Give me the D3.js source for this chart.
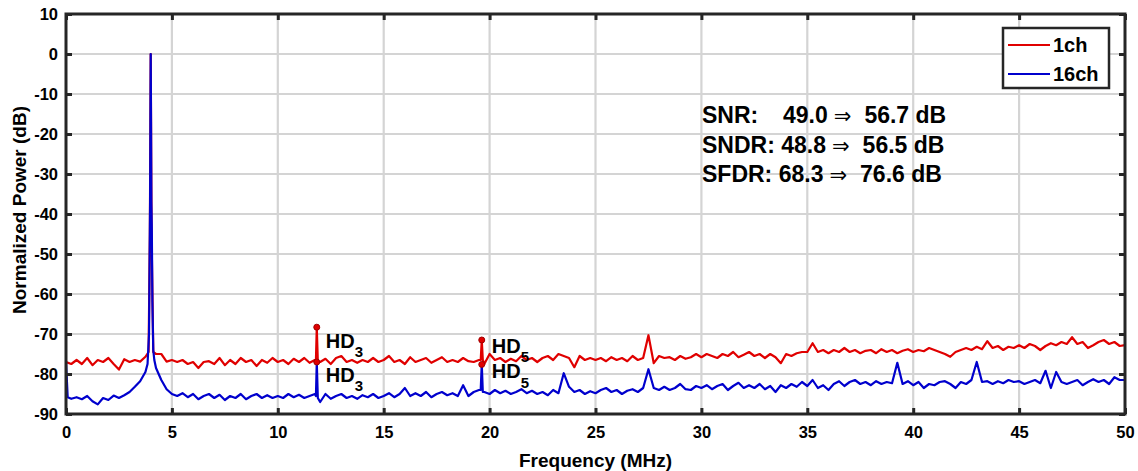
<!DOCTYPE html>
<html><head><meta charset="utf-8">
<script src="https://cdn.jsdelivr.net/npm/d3@7"></script>
<style>
body{margin:0;background:#fff}
svg{display:block}
text{font-family:"Liberation Sans",Arial,sans-serif;font-weight:bold;fill:#000}
</style>
</head><body>
<svg id="chart" width="1138" height="471"></svg>
<script>
// ---------------- data ----------------
const xTickValues = [0,5,10,15,20,25,30,35,40,45,50];
const yTickValues = [10,0,-10,-20,-30,-40,-50,-60,-70,-80,-90];
const seriesNames = ["1ch","16ch"];
const freqStepMHz = 0.25;   // grid spacing of the noise-floor samples below (0 .. 50 MHz)

const red1ch = [
 -77,-77.5,-76.5,-77.5,-76,-77.8,-76.5,-77,-76,-77.5,-78.9,-76.3,-77,-76.5,-76.9,-75.7,0,-75,-75,-76.9,
 -76.5,-77,-76.5,-77.5,-77,-78.5,-77,-76.8,-77.5,-76,-77.8,-76.5,-77.5,-76,-77,-76.5,-78,-76.5,-77.2,-76,
 -77,-76.5,-77.5,-76.2,-77,-76,-77.2,-76.5,-77,-76.2,-77.5,-76,-75.5,-77,-76.5,-77.2,-76.5,-77,-76,-77,
 -76.5,-75.5,-77,-76.5,-77.5,-75.8,-77,-76.5,-76,-77.2,-76.5,-75.8,-77,-76.5,-77,-76,-76.8,-77,-76.5,-77.5,
 -75,-76.5,-76,-77,-76.2,-76.8,-75.5,-76.5,-76,-77,-76,-75.5,-76.5,-75,-75.5,-76,-78.3,-75.5,-76.5,-76,
 -76.5,-76,-76.8,-75.8,-76.5,-76,-76.8,-75.5,-76.5,-76,-70.3,-77.3,-75.5,-76,-75.8,-76.5,-75.5,-76.2,-75.8,-75,
 -75.8,-75,-75.5,-76,-75,-75.5,-74.5,-75.8,-75.2,-74.5,-75.5,-75,-76,-75,-75.8,-77.3,-75,-75.5,-74.8,-74.5,
 -74.5,-72.3,-74.5,-74,-74.8,-74,-74.5,-73.5,-74.5,-74,-74.8,-74.2,-74,-74.8,-73.8,-74.5,-74,-74.8,-74.2,-73.8,
 -74.5,-74,-74.3,-73.5,-74,-74.5,-75,-75.7,-74.5,-74,-73.5,-74,-73.2,-73.8,-71.8,-73.5,-73,-74,-73.2,-73.5,
 -72.8,-73.5,-72.5,-73,-74,-73,-72.3,-72.8,-72,-72.5,-70.8,-72.5,-72,-73.5,-72.8,-72,-71.5,-72.5,-72,-73,
 -72.8
];
const blue16ch = [
 -77,-86.2,-85.8,-86.3,-85.5,-86.8,-87.6,-86,-86.5,-85.4,-86,-85.3,-84.5,-83.2,-81.8,-79.5,0,-78.5,-81.5,-83.8,
 -85,-85.5,-84.8,-85.8,-85,-86.3,-85.5,-85,-86,-85.2,-86.5,-85.5,-86,-85,-86.3,-85.5,-85,-86,-85.3,-86,
 -85.5,-86,-85,-85.8,-85.2,-86,-85.5,-85,-87,-85,-86.2,-85.5,-85,-86,-85.5,-86.2,-85.3,-85.8,-85,-86,
 -85.5,-84.8,-85.8,-85,-83.5,-85.5,-84.8,-85.5,-84.5,-85.8,-85,-84.5,-85.3,-84.8,-85.5,-82.8,-85.5,-84.5,-84,-84.5,
 -85,-84,-84.8,-84.2,-85,-84.5,-83.8,-84.8,-84.2,-85,-84.5,-85.3,-84,-84.8,-79.8,-83.2,-84.5,-84,-85,-84.3,
 -84.8,-84,-83.5,-84.5,-84,-85,-84.2,-83.8,-84.5,-83.5,-78.8,-83.5,-84,-83.2,-84,-83.5,-82.5,-83.8,-84,-83,
 -83.5,-82.8,-83.8,-83,-82.5,-84,-83,-82.2,-83.5,-82.8,-83.5,-82.5,-83.8,-83,-84.5,-82.8,-83.5,-82.5,-83.2,-82,
 -83,-81.5,-83.5,-82.8,-84,-82.5,-81.8,-83,-82,-81.5,-82.5,-82,-82.8,-81.8,-82.5,-82,-82.3,-77.2,-82.5,-81.8,
 -82.8,-82,-83.5,-82.5,-82.8,-82,-81.8,-82.5,-83.5,-82,-82.5,-81.5,-77,-82,-81.8,-82.5,-81.8,-82.3,-81.5,-82,
 -81.8,-82.5,-82,-81.5,-82.3,-79.2,-83.5,-79.5,-82,-82.5,-82,-81.5,-82.8,-82,-81.3,-82,-81.5,-82.5,-80.8,-81.5,
 -81.5
];
// extra (frequency MHz, dB) samples that sit between grid points: tone and harmonic peaks
const red1chExtraF  = [3.9, 3.96, 4.04, 4.12, 11.8, 11.84, 11.89, 19.58, 19.63, 19.68];
const red1chExtraV  = [-74.5, -45, -45, -74.5, -76.6, -68.3, -76.9, -76.5, -71.5, -76.5];
const blue16chExtraF = [0.08, 3.85, 3.92, 3.95, 3.97, 3.985, 4.015, 4.03, 4.05, 4.08, 4.12, 4.17, 11.8, 11.84, 11.89, 19.58, 19.63, 19.68];
const blue16chExtraV = [-85.8, -77.5, -70, -50, -37, -17, -17, -37, -43, -62, -74, -76.5, -85.5, -77, -86, -84, -77.6, -84.5];

// harmonic markers
const hdFreq  = [11.84, 11.84, 19.63, 19.63];
const hdLevel = [-68.3, -77, -71.5, -77.6];
const hdSub   = ["3", "3", "5", "5"];

// metrics text
const metricNames = ["SNR:", "SNDR:", "SFDR:"];
const metric1ch   = ["49.0", "48.8", "68.3"];
const metric16ch  = ["56.7", "56.5", "76.6"];

// ---------------- drawing ----------------
const svg = d3.select("#chart");
const L = 66, R = 1125, T = 14, B = 414;
const x = d3.scaleLinear().domain([0, 50]).range([L, R]);
const y = d3.scaleLinear().domain([-90, 10]).range([B, T]);

function buildSeries(vals, ef, ev) {
  const pts = vals.map((v, i) => ({f: i * freqStepMHz, v}));
  ef.forEach((f, i) => pts.push({f, v: ev[i]}));
  pts.sort((a, b) => a.f - b.f);
  return pts;
}
const redPts = buildSeries(red1ch, red1chExtraF, red1chExtraV);
const bluePts = buildSeries(blue16ch, blue16chExtraF, blue16chExtraV);

svg.append("rect").attr("width", 1138).attr("height", 471).attr("fill", "#fff");

// grid
const grid = svg.append("g");
grid.selectAll("line.gx").data(xTickValues.slice(1, -1)).join("line")
  .attr("x1", d => x(d)).attr("x2", d => x(d)).attr("y1", T).attr("y2", B)
  .attr("stroke", "#d4d4d4").attr("stroke-width", 2.2);
grid.selectAll("line.gy").data(yTickValues.slice(1, -1)).join("line")
  .attr("y1", d => y(d)).attr("y2", d => y(d)).attr("x1", L).attr("x2", R)
  .attr("stroke", "#d4d4d4").attr("stroke-width", 2.2);

svg.append("clipPath").attr("id", "clip").append("rect")
  .attr("x", L).attr("y", T).attr("width", R - L).attr("height", B - T);

const line = d3.line().x(d => x(d.f)).y(d => y(d.v));
const plot = svg.append("g").attr("clip-path", "url(#clip)");
plot.append("path").datum(redPts).attr("d", line)
  .attr("fill", "none").attr("stroke", "#e00000").attr("stroke-width", 2.2).attr("stroke-linejoin", "round");
plot.append("path").datum(bluePts).attr("d", line)
  .attr("fill", "none").attr("stroke", "#0000cd").attr("stroke-width", 2.2).attr("stroke-linejoin", "round");

// markers
svg.selectAll("circle.hd").data(hdFreq).join("circle")
  .attr("cx", d => x(d)).attr("cy", (d, i) => y(hdLevel[i])).attr("r", 3)
  .attr("fill", "#e00000").attr("stroke", "#a00000").attr("stroke-width", 1);

// HD labels
const labOff = [[9, 21, 9], [9, 20, 9], [10, 12.5, 9.5], [10, 13.5, 10]];
hdFreq.forEach((f, i) => {
  const t = svg.append("text").attr("x", x(f) + labOff[i][0]).attr("y", y(hdLevel[i]) + labOff[i][1])
    .style("font-size", "20px");
  t.append("tspan").text("HD");
  t.append("tspan").attr("dy", labOff[i][2]).style("font-size", "15px").text(hdSub[i]);
});

// axes box
const axisColor = "#262626";
svg.append("rect").attr("x", L).attr("y", T).attr("width", R - L).attr("height", B - T)
  .attr("fill", "none").attr("stroke", axisColor).attr("stroke-width", 3);

const fmt = d => String(d);
const xAxisB = d3.axisBottom(x).tickValues(xTickValues).tickSize(-6).tickPadding(12).tickFormat(fmt);
const xAxisT = d3.axisTop(x).tickValues(xTickValues).tickSize(-6).tickFormat("");
const yAxisL = d3.axisLeft(y).tickValues(yTickValues).tickSize(-6).tickPadding(8).tickFormat(fmt);
const yAxisR = d3.axisRight(y).tickValues(yTickValues).tickSize(-6).tickFormat("");

function styleAxis(g) {
  g.select(".domain").remove();
  g.selectAll(".tick line").attr("stroke", axisColor).attr("stroke-width", 3);
  g.selectAll(".tick text").attr("fill", "#000").style("font-size", "16.5px")
    .style("font-family", '"Liberation Sans",Arial,sans-serif').style("font-weight", "bold");
}
svg.append("g").attr("transform", `translate(0,${B})`).call(xAxisB).call(styleAxis);
svg.append("g").attr("transform", `translate(0,${T})`).call(xAxisT).call(styleAxis);
svg.append("g").attr("transform", `translate(${L},0)`).call(yAxisL).call(styleAxis);
svg.append("g").attr("transform", `translate(${R},0)`).call(yAxisR).call(styleAxis);

// axis titles
svg.append("text").attr("x", (L + R) / 2).attr("y", 467).attr("text-anchor", "middle")
  .style("font-size", "19px").text("Frequency (MHz)");
svg.append("text").attr("transform", `translate(26,${(T + B) / 2 - 4}) rotate(-90)`).attr("text-anchor", "middle")
  .style("font-size", "19px").text("Normalized Power (dB)");

// legend
const lg = svg.append("g");
lg.append("rect").attr("x", 1003).attr("y", 28).attr("width", 106).attr("height", 60)
  .attr("fill", "#fff").attr("stroke", axisColor).attr("stroke-width", 2.5);
const legColors = ["#e00000", "#0000cd"];
seriesNames.forEach((n, i) => {
  const yy = 45 + i * 29;
  lg.append("line").attr("x1", 1008).attr("x2", 1050).attr("y1", yy).attr("y2", yy)
    .attr("stroke", legColors[i]).attr("stroke-width", 2);
  lg.append("text").attr("x", 1053).attr("y", yy + 7).style("font-size", "20px").text(n);
});

// metrics
metricNames.forEach((n, i) => {
  const yy = 123 + i * 29.5;
  let t;
  if (i === 0) {
    svg.append("text").attr("x", 702).attr("y", yy).style("font-size", "23px").text(n);
    t = svg.append("text").attr("x", 783).attr("y", yy).style("font-size", "23px");
    t.append("tspan").text(metric1ch[i]);
  } else {
    t = svg.append("text").attr("x", 702).attr("y", yy).style("font-size", "23px");
    t.append("tspan").text(`${n} ${metric1ch[i]}`);
  }
  t.append("tspan").attr("dx", 6).style("font-weight", "normal")
    .style("font-family", '"DejaVu Sans",sans-serif').style("font-size", "21px").text("\u21D2");
  t.append("tspan").attr("dx", 13).text(`${metric16ch[i]} dB`);
});
</script>
</body></html>
